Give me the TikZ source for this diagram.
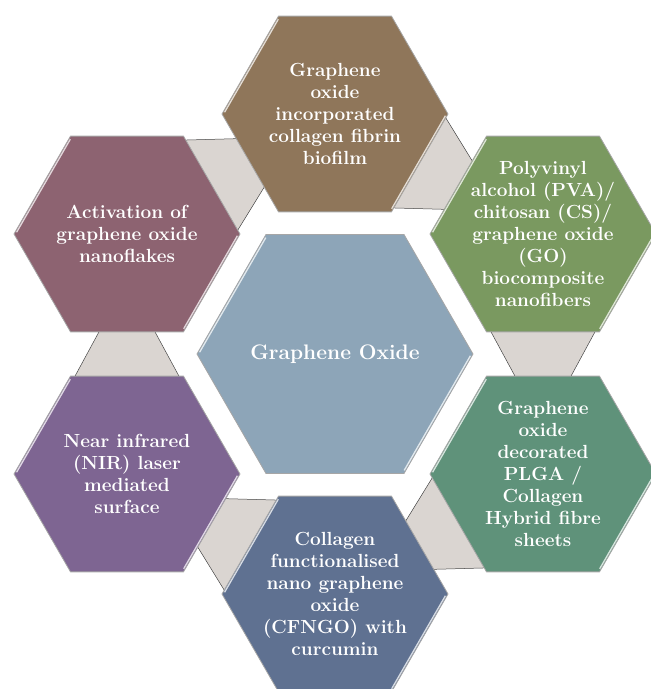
\documentclass[tikz,border=0pt]{standalone}
\usepackage{tikz}
\usetikzlibrary{shapes.geometric,positioning,calc,backgrounds}

\definecolor{hubblue}{HTML}{8DA5B8}
\definecolor{filmbrown}{HTML}{8F765A}
\definecolor{pvagreen}{HTML}{7A9960}
\definecolor{sheetteal}{HTML}{5F927A}
\definecolor{cfngoslate}{HTML}{5F7191}
\definecolor{nirpurple}{HTML}{7E6592}
\definecolor{flakemauve}{HTML}{8D6371}
\definecolor{linkgray}{HTML}{DAD5D1}

\begin{document}
\begin{tikzpicture}[node distance=240pt,on grid]
  \tikzstyle{hexa}=[regular polygon,regular polygon sides=6,minimum size=226pt,
                    inner sep=0pt,outer sep=0pt,draw=gray!70,line width=0.8pt]
  \tikzstyle{hub}=[hexa,minimum size=276pt]
  \tikzstyle{caption}=[text=white,align=center,
                       font=\fontsize{19}{22}\selectfont\bfseries]
  \tikzstyle{link}=[fill=linkgray,draw=gray!55!black,line width=0.5pt]
  \tikzstyle{shine}=[line width=1.3pt,shorten <=2pt,shorten >=2pt]

  \useasboundingbox (-335pt,-335pt) rectangle (316pt,354pt);

  \node[hub,fill=hubblue,label={[caption,font=\fontsize{21}{25}\selectfont\bfseries]center:Graphene Oxide}] (go) at (0,0) {};

  \node[hexa,fill=filmbrown,label={[caption]center:Graphene\\oxide\\incorporated\\collagen fibrin\\biofilm}]
    (film) [above=of go] {};
  \node[hexa,fill=pvagreen,label={[caption]center:Polyvinyl\\alcohol (PVA)/\\chitosan (CS)/\\graphene oxide\\(GO)\\biocomposite\\nanofibers}]
    (pva) [above right=120pt and 208pt of go] {};
  \node[hexa,fill=sheetteal,label={[caption]center:Graphene\\oxide\\decorated\\PLGA /\\Collagen\\Hybrid fibre\\sheets}]
    (sheets) [below right=120pt and 208pt of go] {};
  \node[hexa,fill=cfngoslate,label={[caption]center:Collagen\\functionalised\\nano graphene\\oxide\\(CFNGO) with\\curcumin}]
    (cfngo) [below=of go] {};
  \node[hexa,fill=nirpurple,label={[caption]center:Near infrared\\(NIR) laser\\mediated\\surface}]
    (nir) [below left=120pt and 208pt of go] {};
  \node[hexa,fill=flakemauve,label={[caption]center:Activation of\\graphene oxide\\nanoflakes}]
    (flakes) [above left=120pt and 208pt of go] {};

  % links between neighbouring hexagons, wide end at the first one
  \begin{pgfonlayer}{background}
    \foreach \a/\b in {film/pva,pva/sheets,sheets/cfngo,cfngo/nir,nir/flakes,flakes/film}
      \draw[link] ($(\a)!.40!(\b)!53pt!90:(\b)$) -- ($(\a)!.60!(\b)!27pt!90:(\b)$)
        -- ($(\a)!.60!(\b)!27pt!-90:(\b)$) -- ($(\a)!.40!(\b)!53pt!-90:(\b)$) -- cycle;
  \end{pgfonlayer}

  % light bevel on the upper left and lower right sides
  \foreach \n/\c in {go/hubblue,film/filmbrown,pva/pvagreen,sheets/sheetteal,
                     cfngo/cfngoslate,nir/nirpurple,flakes/flakemauve}{
    \draw[shine,\c!25!white] ($(\n.180)!1.6pt!(\n.center)$) -- ($(\n.120)!1.6pt!(\n.center)$);
    \draw[shine,\c!25!white] ($(\n.300)!1.6pt!(\n.center)$) -- ($(\n.0)!1.6pt!(\n.center)$);
  }
\end{tikzpicture}
\end{document}
